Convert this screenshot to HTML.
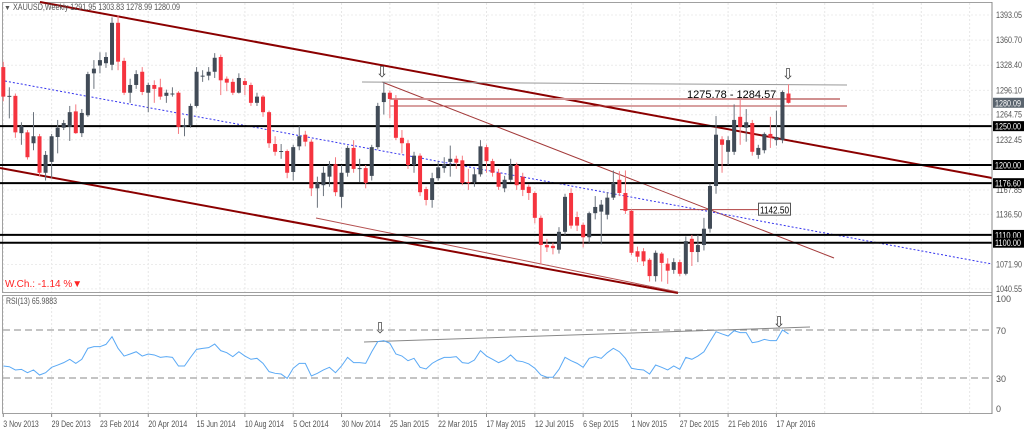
<!DOCTYPE html>
<html><head><meta charset="utf-8"><style>
html,body{margin:0;padding:0;background:#fff;}
svg{display:block;font-family:"Liberation Sans",sans-serif;}
</style></head><body>
<svg id="chart" width="1024" height="430" viewBox="0 0 1024 430" xmlns="http://www.w3.org/2000/svg"></svg>
<script>
const opens=[1326,1288,1289,1241,1242,1228,1237,1190,1204,1236,1248,1249,1269,1241,1264,1318,1328,1331,1329,1383,1334,1293,1303,1320,1293,1303,1300,1289,1291,1293,1249,1251,1276,1314,1315,1320,1339,1311,1307,1293,1308,1303,1280,1288,1268,1227,1217,1218,1191,1224,1239,1230,1170,1174,1185,1201,1159,1190,1222,1195,1196,1186,1223,1281,1293,1284,1235,1228,1200,1212,1169,1155,1183,1196,1204,1208,1206,1178,1178,1188,1223,1205,1190,1170,1181,1200,1185,1172,1164,1132,1097,1096,1091,1114,1164,1133,1123,1107,1138,1140,1136,1158,1181,1164,1141,1089,1089,1078,1057,1086,1073,1065,1075,1060,1105,1088,1097,1118,1173,1233,1217,1217,1262,1248,1254,1213,1219,1240,1232,1232,1292];
const highs=[1333,1300,1292,1255,1245,1268,1240,1218,1240,1258,1258,1276,1278,1272,1320,1335,1345,1345,1390,1393,1338,1311,1322,1326,1306,1309,1311,1297,1300,1295,1260,1279,1326,1322,1326,1344,1342,1314,1311,1318,1312,1306,1293,1290,1270,1237,1227,1220,1226,1250,1244,1233,1185,1198,1205,1210,1200,1225,1232,1208,1200,1226,1280,1307,1296,1290,1245,1232,1217,1215,1172,1190,1205,1210,1225,1212,1212,1195,1195,1232,1226,1208,1195,1186,1208,1203,1190,1175,1166,1135,1105,1100,1120,1163,1170,1140,1126,1140,1160,1155,1165,1193,1192,1193,1143,1095,1093,1080,1090,1088,1080,1080,1078,1108,1110,1110,1132,1176,1263,1237,1237,1278,1284,1272,1258,1226,1242,1262,1270,1296,1304];
const lows=[1282,1260,1235,1226,1207,1219,1185,1180,1183,1215,1245,1231,1240,1236,1262,1298,1318,1325,1322,1322,1290,1280,1298,1290,1268,1280,1284,1280,1288,1240,1237,1248,1274,1307,1309,1312,1290,1295,1290,1292,1290,1276,1276,1262,1222,1212,1208,1183,1180,1219,1224,1160,1145,1160,1172,1160,1145,1185,1190,1178,1170,1180,1220,1265,1260,1232,1215,1195,1190,1160,1148,1145,1180,1190,1185,1195,1174,1168,1172,1185,1190,1185,1168,1165,1178,1168,1160,1155,1125,1072,1088,1085,1086,1110,1118,1115,1094,1100,1130,1098,1130,1155,1160,1137,1084,1075,1070,1050,1050,1050,1047,1060,1057,1058,1070,1075,1090,1113,1163,1190,1200,1213,1226,1230,1212,1208,1215,1222,1225,1228,1279];
const closes=[1288,1289,1242,1250,1210,1237,1190,1213,1237,1248,1254,1268,1241,1267,1317,1324,1335,1339,1383,1333,1293,1303,1317,1294,1303,1298,1288,1293,1292,1249,1251,1276,1320,1315,1320,1338,1309,1306,1293,1312,1303,1280,1288,1268,1228,1217,1218,1190,1223,1237,1230,1170,1177,1190,1200,1165,1190,1222,1195,1196,1177,1223,1276,1293,1285,1235,1228,1200,1212,1165,1155,1183,1197,1201,1208,1203,1177,1177,1188,1224,1205,1190,1172,1181,1200,1174,1168,1164,1132,1097,1094,1093,1114,1159,1122,1122,1107,1138,1146,1149,1158,1177,1164,1141,1087,1082,1076,1057,1087,1074,1064,1075,1060,1102,1088,1097,1118,1173,1239,1226,1232,1258,1249,1255,1217,1222,1240,1235,1236,1294,1280];
const rsi=[40,39.4,36.7,37.2,34.4,36.7,32.5,34.4,38.9,40.8,42.8,45.6,42.2,45.6,54.7,56.1,56.1,58,64.4,54.7,48.3,50,51.9,48.3,50,49.2,47.2,47.8,47.2,40,40,47.2,53.9,54.7,55.3,58.3,52.8,51.1,47.8,51.9,48.3,45.6,46.4,42.2,35.3,33.9,33.3,29.7,38.1,42.2,42.2,31.7,33.9,36.7,38.9,34.4,40,47.2,42.8,42.8,42.2,51.9,60.3,61.1,58.9,50,48.3,44.4,46.4,38.9,37.5,42.2,45,47.2,47.2,47.8,42.8,42.2,45,52.8,48.3,45.6,42.8,45,49.2,44.4,43.6,41.7,38.1,32.5,30.6,30.6,37.2,47.2,44.4,42.2,38.9,46.4,47.8,46.4,51.1,54.7,51.9,46.4,38.1,37.2,36.7,33.3,40.8,38.9,36.7,40,37.2,47.2,45.6,48.3,51.9,60.3,68.6,66.7,65,69.4,67.8,67.8,59.4,60.3,62.2,61.1,61.1,70,66.7];
const priceTicks=[1393.05,1360.70,1328.40,1296.10,1264.75,1232.45,1167.85,1136.50,1071.90,1040.55];
const levels=[1250.00,1200.00,1176.60,1110.00,1100.00];
const dateLabels=["3 Nov 2013","29 Dec 2013","23 Feb 2014","20 Apr 2014","15 Jun 2014","10 Aug 2014","5 Oct 2014","30 Nov 2014","25 Jan 2015","22 Mar 2015","17 May 2015","12 Jul 2015","6 Sep 2015","1 Nov 2015","27 Dec 2015","21 Feb 2016","17 Apr 2016"];
const dateIdx=[0,8,16,24,32,40,48,56,64,72,80,88,96,104,112,120,128];

const NS="http://www.w3.org/2000/svg";
const svg=document.getElementById('chart');
const X=i=>3.3+i*6.04;
const Y=p=>165-(p-1200)*0.777;
const RY=v=>330+(70-v)*1.2;
function mk(tag,attrs,parent){const e=document.createElementNS(NS,tag);for(const k in attrs)e.setAttribute(k,attrs[k]);(parent||svg).appendChild(e);return e;}
function txt(s,x,y,attrs,parent){const t=mk('text',Object.assign({x:x,y:y},attrs||{}),parent);t.textContent=s;return t;}

// grid
const grid=mk('g',{});


dateIdx.forEach(i=>{mk('line',{x1:X(i),x2:X(i),y1:3,y2:414,stroke:'#e6e6e6','stroke-dasharray':'2,2'},grid);});
for(let k=1;k<5;k++){const gx=X(128)+k*48.3;mk('line',{x1:gx,x2:gx,y1:3,y2:414,stroke:'#e6e6e6','stroke-dasharray':'2,2'},grid);}
priceTicks.forEach(p=>{mk('line',{x1:3,x2:992,y1:Y(p),y2:Y(p),stroke:'#ececec','stroke-dasharray':'2,2'},grid);});

// frames
mk('rect',{x:2.5,y:2.5,width:989.5,height:290,fill:'none',stroke:'#a0a0a0'});
mk('rect',{x:2.5,y:295.5,width:989.5,height:118,fill:'none',stroke:'#a0a0a0'});

// trend / channel lines
const ann=mk('g',{});


mk('line',{x1:40,y1:2,x2:992,y2:178,stroke:'#8b0000','stroke-width':2},ann);
mk('line',{x1:0,y1:168,x2:678,y2:293,stroke:'#8b0000','stroke-width':2},ann);
mk('line',{x1:316,y1:218,x2:678,y2:292,stroke:'#b45050','stroke-width':1},ann);
mk('line',{x1:382,y1:82,x2:834,y2:258,stroke:'#a33a3a','stroke-width':1},ann);
mk('line',{x1:5,y1:81,x2:992,y2:264,stroke:'#3333ee','stroke-width':1,'stroke-dasharray':'2,2'},ann);
mk('line',{x1:362,y1:82,x2:847,y2:85,stroke:'#999','stroke-width':1},ann);
mk('line',{x1:390,y1:99,x2:840,y2:99,stroke:'#d09090','stroke-width':2},ann);
mk('line',{x1:390,y1:106,x2:847,y2:106,stroke:'#b04040','stroke-width':1},ann);
mk('line',{x1:620,y1:Y(1142.5),x2:758,y2:Y(1142.5),stroke:'#b04040','stroke-width':1},ann);

// horizontal levels
levels.forEach(p=>{
  const l=mk('line',{x1:0,x2:992,y1:Y(p),y2:Y(p),stroke:'#000','stroke-width':2});
  
  
});

// candles
const cg=mk('g',{});


for(let i=0;i<closes.length;i++){
  const bull=closes[i]>=opens[i];
  const col=bull?'#414b57':'#f5343f';
  const x=X(i);
  const w=mk('line',{x1:x,x2:x,y1:Y(highs[i]),y2:Y(lows[i]),stroke:bull?'#6b737d':'#f57a80','stroke-width':1},cg);
  
  
  const top=Y(Math.max(opens[i],closes[i])),bot=Y(Math.min(opens[i],closes[i]));
  const b=mk('rect',{x:x-2,y:top,width:4,height:Math.max(1,bot-top),fill:col},cg);
  
  
}

// labels in main
const t1=txt('1275.78 - 1284.57',687,98,{'font-size':11,fill:'#000'});


const bx=mk('rect',{x:758.5,y:Y(1142.5)-6.5,width:32,height:12,fill:'#fff',stroke:'#555'});


txt('1142.50',760,Y(1142.5)+4,{'font-size':10,fill:'#000',textLength:29,lengthAdjust:'spacingAndGlyphs'});
[[382,77],[788,79],[380,333],[779,327]].forEach(a=>{
  const t=txt('⇩',a[0],a[1],{'font-size':15,'text-anchor':'middle',fill:'#444','font-family':'DejaVu Sans'});
  
  
});
txt('▼',4,10,{'font-size':7,fill:'#555'});
const tt=txt('XAUUSD,Weekly  1291.95 1303.83 1278.99 1280.09',13,10,{'font-size':9,fill:'#555',textLength:167,lengthAdjust:'spacingAndGlyphs'});


const wc=txt('W.Ch.: -1.14 %▼',5,287,{'font-size':10,fill:'#f22'});



// right axis
mk('line',{x1:992,x2:992,y1:2,y2:414,stroke:'#888'});
priceTicks.forEach(p=>{
  const t=txt(p.toFixed(2),996,Y(p)+3,{'font-size':9,fill:'#555',textLength:26,lengthAdjust:'spacingAndGlyphs'});
  
  
});
levels.forEach(p=>{
  mk('rect',{x:993,y:Y(p)-5,width:31,height:10,fill:'#000'});
  const t=txt(p.toFixed(2),995,Y(p)+3.5,{'font-size':9,fill:'#fff',textLength:26,lengthAdjust:'spacingAndGlyphs'});
  
  
});
mk('rect',{x:993,y:Y(1280.09)-5,width:31,height:10,fill:'#5a646e'});
const cp=txt('1280.09',995,Y(1280.09)+3.5,{'font-size':9,fill:'#fff',textLength:26,lengthAdjust:'spacingAndGlyphs'});



// RSI
const rg=mk('g',{});


[70,30].forEach(v=>{mk('line',{x1:3,x2:992,y1:RY(v),y2:RY(v),stroke:'#888','stroke-dasharray':'7,4'},rg);});
mk('line',{x1:364,y1:342,x2:810,y2:327,stroke:'#888','stroke-width':1},rg);
const rl=mk('polyline',{points:rsi.map((v,i)=>X(i)+','+RY(v)).join(' '),fill:'none',stroke:'#5aa9f5','stroke-width':1},rg);


txt('RSI(13) 65.9883',6,304,{'font-size':9,fill:'#555',textLength:51,lengthAdjust:'spacingAndGlyphs'},rg);
[[100,299],[70,331],[30,379],[0,409]].forEach(a=>{txt(String(a[0]),996,a[1]+3,{'font-size':9,fill:'#555'});});

// date axis
dateLabels.forEach((s,k)=>{
  const x=X(dateIdx[k]);
  mk('line',{x1:x,x2:x,y1:414,y2:417,stroke:'#888'});
  const t=txt(s,x,427,{'font-size':9,fill:'#555',textLength:s.length*3.55,lengthAdjust:'spacingAndGlyphs'});
  
  
});
</script>
</body></html>
